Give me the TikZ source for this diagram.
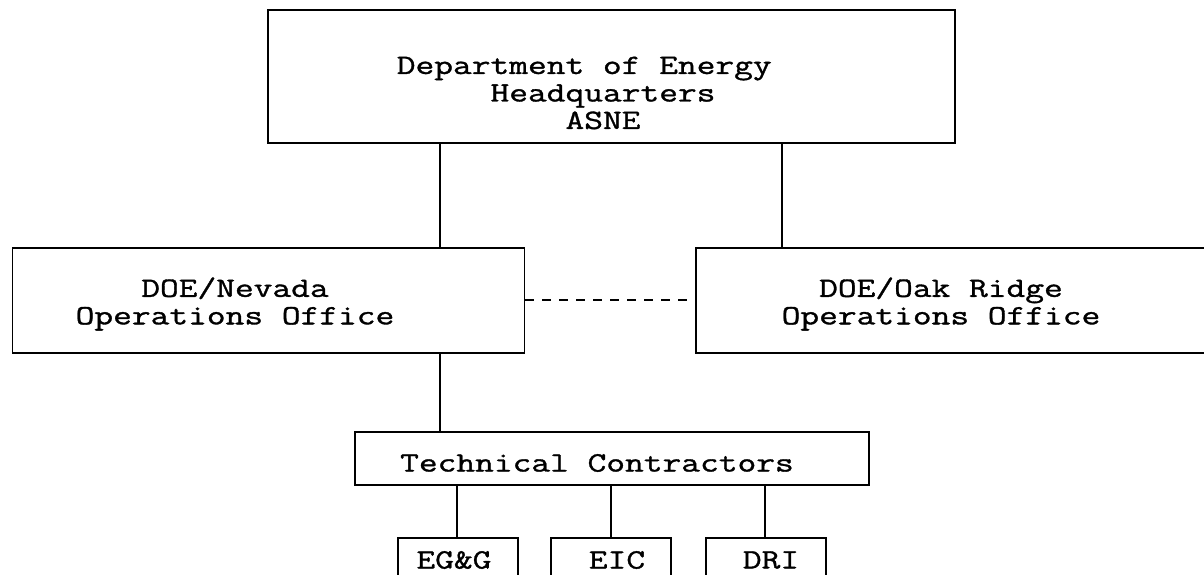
\documentclass[tikz,border=0pt]{standalone}
\usepackage{fontspec}
\setmonofont{Latin Modern Mono}[FakeStretch=1.3,FakeBold=1.2]
\begin{document}
\begin{tikzpicture}[x=1pt,y=-1pt,
  box/.style={draw=black,line width=1.6pt,inner sep=0pt,rectangle},
  lbl/.style={inner sep=0pt,align=center,font=\ttfamily\fontsize{28}{27.5}\selectfont},
  link/.style={draw=black,line width=1.5pt},
  dlink/.style={draw=black,line width=1.5pt,dash pattern=on 9pt off 8pt}]
\useasboundingbox[fill=white] (0,0) rectangle (1204,574);
% boxes
\node[box,minimum width=687pt,minimum height=133pt] (hq) at (611.5,76.5) {};
\node[box,minimum width=512pt,minimum height=105pt] (nev) at (268.5,300.5) {};
\node[box,minimum width=524pt,minimum height=105pt] (oak) at (958,300.5) {};
\node[box,minimum width=514pt,minimum height=53pt] (tech) at (612,458.5) {};
\node[box,minimum width=120pt,minimum height=62pt] (egg) at (458,569) {};
\node[box,minimum width=120pt,minimum height=62pt] (eic) at (611,569) {};
\node[box,minimum width=120pt,minimum height=62pt] (dri) at (766,569) {};
% texts
\node[lbl] (hqt) at (603,93) {Department of Energy\hphantom{MM}\\Headquarters\\ASNE};
\node[lbl] (nevt) at (235,304) {DOE/Nevada\\Operations Office};
\node[lbl] (oakt) at (941,304) {DOE/Oak Ridge\\Operations Office};
\node[lbl] (techt) at (597,463) {Technical Contractors};
\node[lbl] (eggt) at (454,560) {EG\&G};
\node[lbl] (eict) at (617,560) {EIC};
\node[lbl] (drit) at (771,560) {DRI};
% connector columns
\coordinate (c1) at (440,0);
\coordinate (c2) at (782,0);
\coordinate (c3) at (457,0);
\coordinate (c4) at (611,0);
\coordinate (c5) at (765,0);
\coordinate (d1) at (0,300);
\draw[link] (hq.south -| c1) -- (nev.north -| c1);
\draw[link] (hq.south -| c2) -- (oak.north -| c2);
\draw[link] (nev.south -| c1) -- (tech.north -| c1);
\draw[link] (tech.south -| c3) -- (egg.north -| c3);
\draw[link] (tech.south -| c4) -- (eic.north -| c4);
\draw[link] (tech.south -| c5) -- (dri.north -| c5);
\draw[dlink] (nev.east |- d1) -- (oak.west |- d1);
\end{tikzpicture}
\end{document}
